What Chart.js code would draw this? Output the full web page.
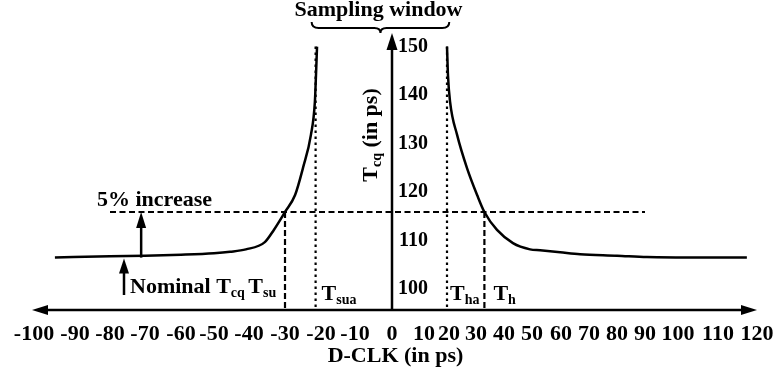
<!DOCTYPE html>
<html>
<head>
<meta charset="utf-8">
<script src="https://cdn.jsdelivr.net/npm/chart.js@4.4.1/dist/chart.umd.min.js"></script>
<style>
  html, body { margin: 0; padding: 0; background: #fff; }
  #wrap { width: 779px; height: 375px; }
</style>
</head>
<body>
<div id="wrap"><canvas id="c" width="779" height="375"></canvas></div>
<script>
// ---- data ----
const X_TICKS = [-100, -90, -80, -70, -60, -50, -40, -30, -20, -10, 0, 10, 20, 30, 40, 50, 60, 70, 80, 90, 100, 110, 120];
const Y_TICKS = [100, 110, 120, 130, 140, 150];

// Tcq vs D-CLK, setup side (data arrives before the clock)
const SETUP_DCLK = [-94.9, -80, -70, -60, -50, -45.4, -40.9, -35.6, -33.1, -30, -27.2, -25.0, -22.8, -21.7, -21.4, -21.1];
const SETUP_TCQ  = [106.5, 106.8, 106.9, 107.1, 107.4, 107.7, 108.2, 109.7, 112.2, 115.9, 119.4, 125.0, 131.8, 138.6, 144.0, 150.0];

// Tcq vs D-CLK, hold side (data changes after the clock)
const HOLD_DCLK = [19.2, 19.6, 20.4, 23.0, 26.7, 30.4, 33, 37.5, 43.2, 49.3, 52.8, 59.7, 66.8, 80, 90.6, 105.5, 117.4];
const HOLD_TCQ  = [150.0, 144.0, 138.6, 131.8, 124.9, 119.4, 115.9, 112.2, 109.5, 108.2, 108.0, 107.6, 107.2, 106.9, 106.6, 106.5, 106.5];

const NOMINAL_TCQ = 106.5;   // flat Tcq far from the clock edge
const LIMIT_TCQ = 115.9;     // "5% increase" level
const LIMIT_SPAN = [-80, 90];
const T_SU = -30, T_SUA = -21.5, T_HA = 19.2, T_H = 33;
const X_RANGE = [-100, 120];
const Y_RANGE = [95.7, 152.8];

// ---- layout of the schematic (non-uniform) D-CLK axis ----
const TICK_SLOTS = [34, 75, 110, 145, 181, 214, 249, 285, 321, 355, 392, 424, 449, 476, 504, 532, 561, 589, 617, 645, 678, 718, 757];
const SLOT_DEC = TICK_SLOTS.map(s => (s - TICK_SLOTS[0]) / (TICK_SLOTS[TICK_SLOTS.length - 1] - TICK_SLOTS[0]));

function valueToDecimal(v) {
  const n = X_TICKS.length;
  let i = 0;
  if (v <= X_TICKS[0]) i = 0;
  else if (v >= X_TICKS[n - 1]) i = n - 2;
  else { while (i < n - 2 && v > X_TICKS[i + 1]) i++; }
  const t = (v - X_TICKS[i]) / (X_TICKS[i + 1] - X_TICKS[i]);
  return SLOT_DEC[i] + t * (SLOT_DEC[i + 1] - SLOT_DEC[i]);
}
function decimalToValue(d) {
  const n = SLOT_DEC.length;
  let i = 0;
  if (d <= SLOT_DEC[0]) i = 0;
  else if (d >= SLOT_DEC[n - 1]) i = n - 2;
  else { while (i < n - 2 && d > SLOT_DEC[i + 1]) i++; }
  const t = (d - SLOT_DEC[i]) / (SLOT_DEC[i + 1] - SLOT_DEC[i]);
  return X_TICKS[i] + t * (X_TICKS[i + 1] - X_TICKS[i]);
}

class SchematicScale extends Chart.LinearScale {
  static id = 'schematic';
  static defaults = Chart.LinearScale.defaults;
  getPixelForValue(value) {
    return this.getPixelForDecimal(valueToDecimal(value));
  }
  getValueForPixel(pixel) {
    return decimalToValue(this.getDecimalForPixel(pixel));
  }
}
Chart.register(SchematicScale);

const SERIF = '"Liberation Serif", "Times New Roman", serif';
const MAIN_FONT = '700 22px ' + SERIF;
const SUB_FONT = '700 14px ' + SERIF;

function pts(xs, ys) { return xs.map((x, i) => ({ x, y: ys[i] })); }

function richWidth(ctx, parts) {
  let w = 0;
  for (const p of parts) { ctx.font = p.sub ? SUB_FONT : MAIN_FONT; w += ctx.measureText(p.t).width; }
  return w;
}
function drawRich(ctx, parts, x, y) {
  let cx = x;
  ctx.textAlign = 'left';
  ctx.textBaseline = 'alphabetic';
  for (const p of parts) {
    ctx.font = p.sub ? SUB_FONT : MAIN_FONT;
    ctx.fillText(p.t, cx, y + (p.sub ? 4 : 0));
    cx += ctx.measureText(p.t).width;
  }
}
function arrowHead(ctx, tipX, tipY, dir, len, half) {
  ctx.beginPath();
  if (dir === 'up') {
    ctx.moveTo(tipX, tipY); ctx.lineTo(tipX - half, tipY + len); ctx.lineTo(tipX + half, tipY + len);
  } else if (dir === 'left') {
    ctx.moveTo(tipX, tipY); ctx.lineTo(tipX + len, tipY - half); ctx.lineTo(tipX + len, tipY + half);
  } else {
    ctx.moveTo(tipX, tipY); ctx.lineTo(tipX - len, tipY - half); ctx.lineTo(tipX - len, tipY + half);
  }
  ctx.closePath();
  ctx.fill();
}

// Axes arrows, brace, callouts and subscripted labels
const annotations = {
  id: 'annotations',
  afterDraw(chart) {
    const { ctx, chartArea } = chart;
    const xs = chart.scales.x, ys = chart.scales.y;
    const X = v => xs.getPixelForValue(v);
    const Y = v => ys.getPixelForValue(v);
    ctx.save();
    ctx.fillStyle = '#000';
    ctx.strokeStyle = '#000';

    // horizontal double-headed axis
    const axY = chartArea.bottom;
    const xl = chartArea.left - 2, xr = chartArea.right;
    ctx.lineWidth = 2.5;
    ctx.beginPath(); ctx.moveTo(xl + 10, axY); ctx.lineTo(xr - 10, axY); ctx.stroke();
    arrowHead(ctx, xl, axY, 'left', 16, 5);
    arrowHead(ctx, xr, axY, 'right', 16, 5);

    // vertical Tcq axis
    const x0 = X(0);
    ctx.beginPath(); ctx.moveTo(x0, axY); ctx.lineTo(x0, chartArea.top + 10); ctx.stroke();
    arrowHead(ctx, x0, chartArea.top, 'up', 17, 5.5);

    // "5% increase" arrow
    ctx.lineWidth = 2.5;
    const ax1 = X(-71.1);
    ctx.beginPath(); ctx.moveTo(ax1, Y(NOMINAL_TCQ)); ctx.lineTo(ax1, Y(LIMIT_TCQ) + 10); ctx.stroke();
    arrowHead(ctx, ax1, Y(LIMIT_TCQ), 'up', 16, 5);

    // nominal Tcq arrow
    const ax2 = X(-76);
    ctx.beginPath(); ctx.moveTo(ax2, axY - 15); ctx.lineTo(ax2, Y(NOMINAL_TCQ) + 10); ctx.stroke();
    arrowHead(ctx, ax2, Y(NOMINAL_TCQ) + 1, 'up', 15, 5);

    // sampling window brace
    const bl = X(-22.6), br = X(20.1), bm = (bl + br) / 2;
    const bTop = chartArea.top - 11, bMid = chartArea.top - 5, bTip = chartArea.top;
    ctx.lineWidth = 2;
    ctx.beginPath();
    ctx.moveTo(bl, bTop);
    ctx.quadraticCurveTo(bl, bMid, bl + 7, bMid);
    ctx.lineTo(bm - 6, bMid);
    ctx.quadraticCurveTo(bm, bMid, bm, bTip);
    ctx.quadraticCurveTo(bm, bMid, bm + 6, bMid);
    ctx.lineTo(br - 7, bMid);
    ctx.quadraticCurveTo(br, bMid, br, bTop);
    ctx.stroke();

    // texts
    ctx.font = MAIN_FONT;
    ctx.textAlign = 'center';
    ctx.textBaseline = 'alphabetic';
    ctx.fillText('Sampling window', bm - 2, 16);

    ctx.textAlign = 'left';
    ctx.fillText('5% increase', X(-80) - 13, Y(LIMIT_TCQ) - 6);

    drawRich(ctx, [
      { t: 'Nominal ' }, { t: 'T' }, { t: 'cq', sub: true }, { t: ' ', sub: true }, { t: 'T' }, { t: 'su', sub: true }
    ], ax2 + 6, axY - 17);

    const lblY = axY - 10;
    drawRich(ctx, [{ t: 'T' }, { t: 'sua', sub: true }], X(T_SUA) + 6, lblY);
    drawRich(ctx, [{ t: 'T' }, { t: 'ha', sub: true }], X(T_HA) + 3, lblY);
    drawRich(ctx, [{ t: 'T' }, { t: 'h', sub: true }], X(T_H) + 9, lblY);

    // rotated Tcq axis title
    const titleParts = [{ t: 'T' }, { t: 'cq', sub: true }, { t: ' (in ps)' }];
    const tw = richWidth(ctx, titleParts);
    ctx.translate(x0 - 15, 135);
    ctx.rotate(-Math.PI / 2);
    drawRich(ctx, titleParts, -tw / 2, 0);

    ctx.restore();
  }
};

const lineBase = { borderColor: '#000', pointRadius: 0, fill: false };

new Chart(document.getElementById('c'), {
  type: 'line',
  data: {
    datasets: [
      { ...lineBase, data: pts(SETUP_DCLK, SETUP_TCQ), borderWidth: 2.5, cubicInterpolationMode: 'monotone' },
      { ...lineBase, data: pts(HOLD_DCLK, HOLD_TCQ), borderWidth: 2.5, cubicInterpolationMode: 'monotone' },
      { ...lineBase, data: [{ x: LIMIT_SPAN[0], y: LIMIT_TCQ }, { x: LIMIT_SPAN[1], y: LIMIT_TCQ }], borderWidth: 2, borderDash: [6, 3.5] },
      { ...lineBase, data: [{ x: T_SU, y: LIMIT_TCQ }, { x: T_SU, y: Y_RANGE[0] }], borderWidth: 2.2, borderDash: [6, 3] },
      { ...lineBase, data: [{ x: T_H, y: LIMIT_TCQ }, { x: T_H, y: Y_RANGE[0] }], borderWidth: 2.2, borderDash: [6, 3] },
      { ...lineBase, data: [{ x: T_SUA, y: 150 }, { x: T_SUA, y: Y_RANGE[0] }], borderWidth: 2.2, borderDash: [2.5, 3.5] },
      { ...lineBase, data: [{ x: T_HA, y: 150 }, { x: T_HA, y: Y_RANGE[0] }], borderWidth: 2.2, borderDash: [2.5, 3.5] }
    ]
  },
  options: {
    responsive: false,
    animation: false,
    devicePixelRatio: 1,
    layout: { padding: { left: 34, right: 22, top: 33, bottom: 8 } },
    plugins: { legend: { display: false }, tooltip: { enabled: false } },
    scales: {
      x: {
        type: 'schematic',
        position: 'bottom',
        min: X_RANGE[0],
        max: X_RANGE[1],
        afterBuildTicks: s => { s.ticks = X_TICKS.map(v => ({ value: v })); },
        grid: { display: false, drawTicks: false },
        border: { display: false },
        ticks: {
          autoSkip: false, maxRotation: 0, minRotation: 0, padding: 0, color: '#000',
          font: { family: SERIF, size: 22, weight: 'bold', lineHeight: 48 / 22 }
        },
        title: {
          display: true, text: 'D-CLK (in ps)', color: '#000',
          padding: { top: -13, bottom: 0 },
          font: { family: SERIF, size: 22, weight: 'bold', lineHeight: 1 }
        }
      },
      y: {
        type: 'linear',
        position: { x: 11.6 },
        min: Y_RANGE[0],
        max: Y_RANGE[1],
        afterBuildTicks: s => { s.ticks = Y_TICKS.map(v => ({ value: v })); },
        grid: { display: false, drawTicks: false },
        border: { display: false },
        ticks: {
          padding: 0, color: '#000',
          font: { family: SERIF, size: 20, weight: 'bold' }
        }
      }
    }
  },
  plugins: [annotations]
});
</script>
</body>
</html>
